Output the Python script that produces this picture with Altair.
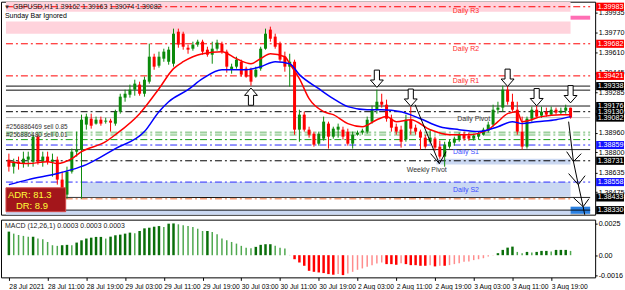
import altair as alt
import pandas as pd

FONT = "Liberation Sans"

# ---------------- candles (GBPUSD H1) ----------------
OPEN = [1.38740,1.38683,1.38724,1.38708,1.38740,1.38724,1.38927,1.38724,1.38765,1.38724,
        1.38740,1.38578,1.38456,1.38643,1.38805,1.38822,1.39025,1.39073,1.39033,1.39065,
        1.39049,1.39057,1.39033,1.39130,1.39244,1.39268,1.39309,1.39350,1.39276,1.39374,
        1.39577,1.39504,1.39561,1.39536,1.39520,1.39780,1.39764,1.39650,1.39642,1.39675,
        1.39699,1.39634,1.39593,1.39642,1.39683,1.39618,1.39471,1.39496,1.39536,1.39480,
        1.39471,1.39415,1.39480,1.39642,1.39797,1.39740,1.39683,1.39577,1.39496,1.39536,
        1.38984,1.39106,1.38984,1.38951,1.38870,1.38911,1.39033,1.38927,1.38984,1.38984,
        1.38968,1.38870,1.38943,1.38960,1.38968,1.39049,1.39146,1.39211,1.39187,1.39073,
        1.39008,1.38984,1.38903,1.39065,1.39000,1.38968,1.38919,1.38886,1.38911,1.38846,
        1.38765,1.38846,1.38878,1.38903,1.38943,1.38935,1.38911,1.38927,1.38943,1.38976,
        1.39025,1.39146,1.39163,1.39309,1.39211,1.39146,1.38968,1.38846,1.39073,1.39146,
        1.39098,1.39130,1.39106,1.39146,1.39122,1.39138,1.39162]
HIGH = [1.38789,1.38748,1.38765,1.38805,1.38805,1.38943,1.38943,1.38805,1.38805,1.38789,
        1.38765,1.38643,1.38683,1.38830,1.38968,1.39106,1.39114,1.39114,1.39090,1.39090,
        1.39081,1.39073,1.39146,1.39276,1.39309,1.39350,1.39390,1.39374,1.39415,1.39683,
        1.39601,1.39618,1.39642,1.39658,1.39805,1.39805,1.39780,1.39675,1.39699,1.39715,
        1.39715,1.39658,1.39699,1.39715,1.39699,1.39634,1.39520,1.39577,1.39553,1.39496,
        1.39488,1.39496,1.39658,1.39805,1.39821,1.39764,1.39699,1.39618,1.39601,1.39553,
        1.39146,1.39130,1.39008,1.38968,1.38968,1.39090,1.39049,1.39008,1.39033,1.39008,
        1.38992,1.38968,1.38976,1.38992,1.39090,1.39179,1.39309,1.39276,1.39228,1.39106,
        1.39033,1.39016,1.39106,1.39171,1.39025,1.38984,1.38943,1.38984,1.38927,1.38895,
        1.38886,1.38903,1.38927,1.38960,1.38968,1.38960,1.38951,1.38968,1.39000,1.39049,
        1.39187,1.39211,1.39341,1.39341,1.39276,1.39211,1.39090,1.39090,1.39171,1.39179,
        1.39171,1.39163,1.39171,1.39163,1.39163,1.39187,1.39163]
LOW = [1.38643,1.38627,1.38659,1.38675,1.38683,1.38683,1.38700,1.38683,1.38700,1.38602,
       1.38537,1.38415,1.38423,1.38627,1.38765,1.38423,1.38984,1.38992,1.39025,1.39016,
       1.39033,1.38968,1.39016,1.39114,1.39211,1.39244,1.39260,1.39260,1.39252,1.39358,
       1.39471,1.39488,1.39536,1.39512,1.39496,1.39650,1.39634,1.39601,1.39626,1.39658,
       1.39593,1.39577,1.39520,1.39626,1.39601,1.39447,1.39439,1.39480,1.39415,1.39406,
       1.39341,1.39406,1.39463,1.39634,1.39699,1.39642,1.39536,1.39455,1.39333,1.38943,
       1.38886,1.38968,1.38919,1.38846,1.38854,1.38895,1.38830,1.38911,1.38919,1.38903,
       1.38854,1.38830,1.38935,1.38943,1.38951,1.39033,1.39114,1.39163,1.39049,1.38968,
       1.38943,1.38838,1.38886,1.38943,1.38943,1.38822,1.38830,1.38870,1.38813,1.38748,
       1.38683,1.38830,1.38854,1.38886,1.38895,1.38895,1.38895,1.38903,1.38935,1.38960,
       1.39008,1.39114,1.39130,1.39187,1.39130,1.38943,1.38822,1.38830,1.39049,1.39081,
       1.39081,1.39090,1.39098,1.39106,1.39106,1.39114,1.39074]
CLOSE = [1.38683,1.38724,1.38708,1.38748,1.38765,1.38927,1.38724,1.38765,1.38724,1.38740,
         1.38578,1.38440,1.38643,1.38805,1.38822,1.39065,1.39090,1.39016,1.39065,1.39033,
         1.39057,1.39041,1.39130,1.39252,1.39276,1.39309,1.39358,1.39276,1.39390,1.39577,
         1.39496,1.39577,1.39618,1.39634,1.39764,1.39675,1.39658,1.39634,1.39675,1.39699,
         1.39618,1.39593,1.39642,1.39691,1.39618,1.39496,1.39496,1.39553,1.39431,1.39415,
         1.39374,1.39471,1.39642,1.39764,1.39723,1.39658,1.39553,1.39496,1.39536,1.38984,
         1.39106,1.38984,1.38943,1.38862,1.38951,1.39049,1.38927,1.38992,1.39008,1.38927,
         1.38870,1.38943,1.38960,1.38976,1.39065,1.39146,1.39211,1.39187,1.39073,1.39000,
         1.38968,1.38886,1.39065,1.38992,1.38968,1.38919,1.38846,1.38919,1.38838,1.38765,
         1.38862,1.38886,1.38911,1.38943,1.38911,1.38911,1.38935,1.38951,1.38984,1.39025,
         1.39146,1.39163,1.39309,1.39211,1.39146,1.38968,1.38846,1.39073,1.39146,1.39090,
         1.39130,1.39106,1.39146,1.39122,1.39138,1.39163,1.39082]

# moving averages (bar index, price)
RED_MA_IDX = [0,4,8,10,13,15,20,22,27,31,34,36,40,44,47,50,52,54,57,58,60,62,65,67,70,73,76,78,80,83,
              87,91,95,99,101,103,105,106,110,114,116]
RED_MA = [1.38724,1.38708,1.38724,1.38708,1.38748,1.38805,1.38886,1.38943,1.39114,1.39317,
          1.39480,1.39536,1.39601,1.39618,1.39561,1.39520,1.39561,1.39601,1.39577,1.39520,
          1.39398,1.39236,1.39130,1.39106,1.39033,1.39008,1.39065,1.39090,1.39049,1.39065,
          1.38984,1.38943,1.38943,1.38984,1.39049,1.39114,1.39130,1.39049,1.39090,1.39106,1.39106]
BLUE_MA_IDX = [0,4,10,13,16,22,28,31,33,37,40,44,49,52,55,58,60,64,67,70,74,77,81,85,89,93,97,101,104,106,
               109,113,116]
BLUE_MA = [1.38537,1.38578,1.38627,1.38659,1.38700,1.38830,1.38968,1.39130,1.39211,1.39309,
           1.39398,1.39471,1.39471,1.39496,1.39536,1.39520,1.39431,1.39317,1.39236,1.39171,
           1.39146,1.39146,1.39130,1.39073,1.39008,1.38984,1.38968,1.39008,1.39049,1.39033,
           1.39049,1.39065,1.39090]

# MACD histogram
MACD = [0.00187,0.00171,0.00160,0.00153,0.00147,0.00147,0.00132,0.00126,0.00105,0.00079,
        0.00074,0.00079,0.00082,0.00079,0.00100,0.00118,0.00132,0.00139,0.00145,0.00145,
        0.00132,0.00147,0.00158,0.00163,0.00171,0.00179,0.00174,0.00192,0.00213,0.00218,
        0.00226,0.00231,0.00224,0.00250,0.00252,0.00245,0.00237,0.00231,0.00224,0.00210,
        0.00192,0.00192,0.00184,0.00166,0.00132,0.00118,0.00105,0.00092,0.00074,0.00060,
        0.00055,0.00066,0.00082,0.00087,0.00087,0.00074,0.00060,0.00053,
        0.00002,-0.00032,-0.00058,-0.00084,
        -0.00124,-0.00132,-0.00137,-0.00142,-0.00150,-0.00155,-0.00150,-0.00158,-0.00145,-0.00132,
        -0.00116,-0.00105,-0.00092,-0.00079,-0.00066,-0.00058,-0.00071,-0.00071,-0.00076,-0.00063,
        -0.00071,-0.00079,-0.00079,-0.00084,-0.00084,-0.00079,-0.00089,-0.00084,-0.00084,-0.00079,
        -0.00071,-0.00063,-0.00053,-0.00050,-0.00039,-0.00032,-0.00024,-0.00011,-0.00002,0.00016,
        0.00042,0.00060,0.00068,0.00026,0.00016,0.00026,0.00021,0.00026,0.00034,0.00034,
        0.00029,0.00042,0.00042,0.00042,0.00034]

TIME_LABELS = ['28 Jul 2021','28 Jul 11:00','28 Jul 19:00','29 Jul 03:00','29 Jul 11:00',
               '29 Jul 19:00','30 Jul 03:00','30 Jul 11:00','30 Jul 19:00','2 Aug 03:00',
               '2 Aug 11:00','2 Aug 19:00','3 Aug 03:00','3 Aug 11:00','3 Aug 19:00']
PRICE_TICKS = [1.39935,1.39770,1.39610,1.39445,1.39285,1.39120,1.38960,1.38800,1.38635,1.38475]

# horizontal levels
LEVEL_PRICE = [1.39983,1.39682,1.39421,1.39338,1.39305,1.39176,1.39130,1.39082,1.38960,1.38940,
               1.38903,1.38859,1.38822,1.38731,1.38558,1.38423,1.38433,1.38330]
LEVEL_KIND = ['r','r','r','k','k','k','kd','g','lg','lg2','dg','b','k','kd','b','s','k','k']
LEVEL_END = ['full']*15 + ['cur','full','full']

# shaded zones
ZONE_TOP = [1.40024,1.39862,1.39910,1.38748,1.38558,1.38330,1.38358]
ZONE_BOT = [1.39943,1.39764,1.39878,1.38700,1.38440,1.38293,1.38300]
ZONE_START = [-0.6,-0.6,116.0,88.3,15.0,-0.6,116.0]
ZONE_END = [116.0,116.0,120.05,116.0,116.0,116.0,120.05]
ZONE_KIND = ['pink','pink','hot','lb','lb','lb','db']

LEVEL_TEXT = ['Daily R3','Daily R2','Daily R1','Daily Pivot','Daily S1','Weekly Pivot','Daily S2']
LEVEL_TEXT_IDX = [94.4,94.4,94.4,96.0,94.4,86.3,94.4]
LEVEL_TEXT_PRICE = [1.39951,1.39642,1.39382,1.39073,1.38805,1.38659,1.38496]
LEVEL_TEXT_KIND = ['r','r','r','k','b','k','b']

BOX_PRICE = [1.39983,1.39682,1.39421,1.39338,1.39176,1.39130,1.39082,1.38859,1.38731,1.38558,1.38433,1.38330]
BOX_KIND = ['r','r','r','k','k','k','k','b','k','b','k','k']

ARROW_IDX = [50,76,83,103,109,116]
ARROW_PRICE = [1.39252,1.39398,1.39244,1.39406,1.39248,1.39272]
ARROW_DIR = ['up','down','down','down','down','down']

DRAW_SEG = ['a','a','a1','a1','a1','b','b','b','b','b','b1','b1','b1','b2','b2','b2','b3','b3','b3']
DRAW_IDX = [83.9,88.9,87.1,88.9,90.3,115.6,116.6,117.6,118.6,119.2,115.2,116.6,118.2,115.6,117.6,119.0,116.6,118.6,119.8]
DRAW_PRICE = [1.39187,1.38708,1.38789,1.38708,1.38805,1.39049,1.38724,1.38537,1.38358,1.38237,
              1.38805,1.38724,1.38789,1.38627,1.38537,1.38610,1.38431,1.38358,1.38423]

# ---------------- scales / helpers ----------------
XMIN, XMAX = -0.6, 120.05
xs = alt.Scale(domain=[XMIN, XMAX], nice=False, zero=False)
ys = alt.Scale(domain=[1.38293, 1.40024], nice=False, zero=False)
yaxis = alt.Axis(orient='right', values=PRICE_TICKS, format='.5f', title=None, grid=False,
                 domain=False, ticks=True, tickSize=2, tickColor='black',
                 labelFont=FONT, labelFontSize=7.2, labelColor='black', labelPadding=1,
                 labelOverlap=False, labelFlush=False)


def X(f):
    return alt.X(f, type='quantitative', scale=xs, axis=None)


def Y(f):
    return alt.Y(f, type='quantitative', scale=ys, axis=yaxis)


ONE = pd.DataFrame({'a': [0]})


def ptext(text, x, y, size=7, color='black', **kw):
    return alt.Chart(ONE).mark_text(text=text, align='left', baseline='middle', font=FONT,
                                    fontSize=size, color=color, **kw).encode(
        x=alt.value(x), y=alt.value(y))


# ---------------- main panel ----------------
zone_colors = {'pink': '#ffd3dc', 'hot': '#ff6eb4', 'lb': '#cad8f2', 'db': '#2b80e0'}
zd = pd.DataFrame({'top': ZONE_TOP, 'bot': ZONE_BOT, 'x0': ZONE_START, 'x1': ZONE_END,
                   'c': [zone_colors[k] for k in ZONE_KIND]})
zones = alt.Chart(zd).mark_rect().encode(x=X('x0'), x2='x1:Q', y=Y('top'), y2='bot:Q',
                                         color=alt.Color('c:N', scale=None))

lvl_style = {'r': ('#ff0000', 'dd', 1), 'k': ('#000000', 'solid', 1), 'kd': ('#000000', 'dd', 1),
             'g': ('#b0b0b0', 'solid', 1), 'lg': ('#9ccf9c', 'dd', 2), 'lg2': ('#9ccf9c', 'dd', 1.5),
             'dg': ('#139a13', 'dd', 1), 'b': ('#2a2aff', 'dd', 1), 's': ('#f3a07c', 'dd', 1.5)}
ld = pd.DataFrame({'p': LEVEL_PRICE,
                   'c': [lvl_style[k][0] for k in LEVEL_KIND],
                   'd': [lvl_style[k][1] for k in LEVEL_KIND],
                   'w': [lvl_style[k][2] for k in LEVEL_KIND],
                   'x0': [XMIN] * len(LEVEL_PRICE),
                   'x1': [XMAX if e == 'full' else 116.0 for e in LEVEL_END],
                   'o': list(range(len(LEVEL_PRICE)))})
levels = alt.Chart(ld).mark_rule().encode(
    x=X('x0'), x2='x1:Q', y=Y('p'),
    color=alt.Color('c:N', scale=None),
    strokeDash=alt.StrokeDash('d:N', scale=alt.Scale(domain=['solid', 'dd'], range=[[1, 0], [7, 3, 2, 3]]),
                              legend=None),
    strokeWidth=alt.StrokeWidth('w:Q', scale=None),
    order='o:Q')

txt_col = {'r': '#ff2a2a', 'k': '#333333', 'b': '#3a4cff'}
td = pd.DataFrame({'t': LEVEL_TEXT, 'x': LEVEL_TEXT_IDX, 'p': LEVEL_TEXT_PRICE,
                   'c': [txt_col[k] for k in LEVEL_TEXT_KIND]})
ltext = alt.Chart(td).mark_text(font=FONT, fontSize=7, baseline='middle', align='center').encode(
    x=X('x'), y=Y('p'), text='t:N', color=alt.Color('c:N', scale=None))

cd = pd.DataFrame({'idx': list(range(len(OPEN))), 'open': OPEN, 'high': HIGH, 'low': LOW, 'close': CLOSE})
cd['dir'] = ['up' if c >= o else 'down' for o, c in zip(OPEN, CLOSE)]
ccol = alt.Color('dir:N', scale=alt.Scale(domain=['up', 'down'], range=['#0b8a0b', '#ff0000']), legend=None)
wicks = alt.Chart(cd).mark_rule(strokeWidth=1).encode(x=X('idx'), y=Y('low'), y2='high:Q', color=ccol)
bodies = alt.Chart(cd).mark_bar(size=3).encode(x=X('idx'), y=Y('open'), y2='close:Q', color=ccol)

red_ma = alt.Chart(pd.DataFrame({'i': RED_MA_IDX, 'v': RED_MA})).mark_line(
    color='#ff0000', strokeWidth=1.5, interpolate='monotone').encode(x=X('i'), y=Y('v'))
blue_ma = alt.Chart(pd.DataFrame({'i': BLUE_MA_IDX, 'v': BLUE_MA})).mark_line(
    color='#0000ff', strokeWidth=1.5, interpolate='monotone').encode(x=X('i'), y=Y('v'))

dd = pd.DataFrame({'s': DRAW_SEG, 'i': DRAW_IDX, 'p': DRAW_PRICE, 'o': list(range(len(DRAW_SEG)))})
drawings = alt.Chart(dd).mark_line(color='black', strokeWidth=1, clip=True).encode(
    x=X('i'), y=Y('p'), detail='s:N', order='o:Q')

DOWN = "M-0.3,-1L0.3,-1L0.3,0.15L0.75,0.15L0,1L-0.75,0.15L-0.3,0.15Z"
UP = "M-0.3,1L0.3,1L0.3,-0.15L0.75,-0.15L0,-1L-0.75,-0.15L-0.3,-0.15Z"
ad = pd.DataFrame({'i': ARROW_IDX, 'p': ARROW_PRICE, 'd': ARROW_DIR})
arrows = alt.Chart(ad).mark_point(filled=True, fill='white', stroke='black', strokeWidth=1,
                                  size=300, opacity=1).encode(
    x=X('i'), y=Y('p'),
    shape=alt.Shape('d:N', scale=alt.Scale(domain=['up', 'down'], range=[UP, DOWN]), legend=None))

box_col = {'r': '#ff0000', 'k': '#000000', 'b': '#1414ff'}
bd = pd.DataFrame({'p': BOX_PRICE, 'c': [box_col[k] for k in BOX_KIND]})
HALF = 0.00033
boxes = alt.Chart(bd).transform_calculate(t=f'datum.p + {HALF}', b=f'datum.p - {HALF}').mark_rect().encode(
    x=alt.value(598), x2=alt.value(626), y=Y('t:Q'), y2='b:Q', color=alt.Color('c:N', scale=None))
box_text = alt.Chart(bd).mark_text(align='left', baseline='middle', font=FONT, fontSize=7.2,
                                   color='white').encode(
    x=alt.value(599.5), y=Y('p'), text=alt.Text('p:Q', format='.5f'))

adr_box = alt.Chart(ONE).mark_rect(color='#a3161b', stroke='#d44a4a', strokeWidth=1).encode(
    x=alt.value(5), x2=alt.value(65), y=alt.value(187), y2=alt.value(211))

main = alt.layer(
    zones, levels, ltext, wicks, bodies, red_ma, blue_ma, drawings, arrows,
    ptext('▼', 3, 5, size=6, color='#333333'),
    ptext('GBPUSD,H1  1.39162 1.39163 1.39074 1.39082', 12, 5, size=7, color='#222222'),
    ptext('Sunday Bar Ignored', 4, 14, size=7),
    ptext('#256886469 sell 0.85', 5, 126, size=6.5, color='#333333'),
    ptext('#256886480 sell 0.01', 5, 134, size=6.5, color='#333333'),
    adr_box,
    ptext('ADR: 81.3', 7, 194, size=9.5, color='#ffff3a'),
    ptext('DR: 8.9', 15, 205, size=9.5, color='#ffff3a'),
    boxes, box_text,
).properties(width=597, height=214)

# ---------------- MACD panel ----------------
md = pd.DataFrame({'idx': list(range(len(MACD))), 'v': MACD})
prev = [MACD[0]] + MACD[:-1]
cat, wid = [], []
for v, p in zip(MACD, prev):
    if v >= 0:
        cat.append('up' if v >= p else 'upf')
    else:
        cat.append('dn' if v <= p else 'dnf')
    wid.append(2.5 if cat[-1] in ('up', 'dn') else 1.5)
md['c'] = cat
md['w'] = wid
md['z'] = 0.0
xs2 = alt.Scale(domain=[XMIN, XMAX], nice=False, zero=False)
ms = alt.Scale(domain=[-0.00176, 0.00282], nice=False, zero=False)
lab_arr = "[" + ",".join("'" + s + "'" for s in TIME_LABELS) + "]"
xaxis = alt.Axis(values=list(range(0, 8 * len(TIME_LABELS), 8)), labelExpr=lab_arr + "[round(datum.value/8)]",
                 labelAlign='left', labelFont=FONT, labelFontSize=6.8, labelColor='black',
                 tickSize=3, tickColor='black', domain=False, grid=False, title=None, labelPadding=3,
                 labelFlush=False, labelOverlap=False)
maxis = alt.Axis(orient='right', values=[0.0025, 0.0, -0.0016],
                 labelExpr="datum.value > 0.001 ? '0.0025' : (datum.value < -0.001 ? '-0.0016' : '0.00')",
                 title=None, grid=False, domain=False, tickSize=2, tickColor='black',
                 labelFont=FONT, labelFontSize=7.2, labelColor='black', labelPadding=1,
                 labelOverlap=False, labelFlush=False)
bars = alt.Chart(md).mark_bar().encode(
    x=alt.X('idx:Q', scale=xs2, axis=xaxis),
    y=alt.Y('v:Q', scale=ms, axis=maxis), y2='z:Q',
    size=alt.Size('w:Q', scale=None),
    color=alt.Color('c:N', scale=alt.Scale(domain=['up', 'upf', 'dn', 'dnf'],
                                           range=['#0a6e0a', '#4fa84f', '#ff0000', '#ff8c8c']), legend=None))
macd_panel = alt.layer(
    bars,
    ptext('MACD (12,26,1) 0.0003 0.0003 0.0003', 4, 6, size=7, color='#222222'),
).properties(width=597, height=58)

chart = alt.vconcat(main, macd_panel, spacing=3).resolve_scale(
    x='independent', y='independent', color='independent', shape='independent',
    strokeDash='independent', strokeWidth='independent', size='independent'
).properties(padding=0, background='white').configure_view(stroke='black', strokeWidth=1)

chart.save("out.html", embed_options={"renderer": "svg", "actions": False})
